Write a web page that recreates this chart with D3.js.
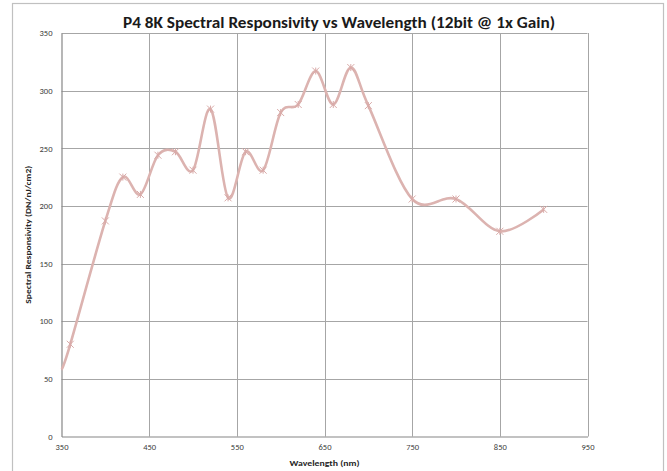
<!DOCTYPE html>
<html><head><meta charset="utf-8">
<script src="https://cdn.jsdelivr.net/npm/d3@7"></script>
<style>body{margin:0;background:#fff}svg{display:block}</style>
</head><body><svg id="c" width="667" height="471"></svg>
<script>
const wavelengths = [350,360,400,420,440,460,480,500,520,540,560,580,600,620,640,660,680,700,750,800,850,900];
const responsivity = [58,80,187,225,210,244,247,231,284,207,247,231,281,288,317,288,320,287,206,206,178,197];
const xTicks = [350,450,550,650,750,850,950];
const yTicks = [0,50,100,150,200,250,300,350];
const titleText = "P4 8K Spectral Responsivity vs Wavelength (12bit @ 1x Gain)";
const xTitle = "Wavelength (nm)";
const yTitle = "Spectral Responsivity (DN/nJ/cm2)";

const svg = d3.select("#c");
const L = 61.5, R = 587.5, T = 33, B = 436.5;
const x = d3.scaleLinear().domain([350,950]).range([L,R]);
const y = d3.scaleLinear().domain([0,350]).range([B,T]);
const font = "Carlito, 'Liberation Sans Narrow', 'Liberation Sans', Arial, sans-serif";

// outer border
svg.append("rect").attr("x",12.5).attr("y",3.5).attr("width",651).attr("height",480)
  .attr("fill","#fff").attr("stroke","#c0c0c0").attr("stroke-width",1.2);

// gridlines
const grid = svg.append("g");
grid.selectAll("line.h").data(yTicks.filter(d=>d>0)).join("line")
  .attr("x1",L).attr("x2",R).attr("y1",d=>Math.round(y(d))+0.5).attr("y2",d=>Math.round(y(d))+0.5)
  .attr("stroke","#a6a6a6").attr("stroke-width",1);
grid.selectAll("line.v").data(xTicks.filter(d=>d>350)).join("line")
  .attr("y1",T).attr("y2",B).attr("x1",d=>Math.round(x(d))+0.5).attr("x2",d=>Math.round(x(d))+0.5)
  .attr("stroke","#a6a6a6").attr("stroke-width",1);

// axes
const xAxis = svg.append("g").attr("transform",`translate(0,${B})`)
  .call(d3.axisBottom(x).tickValues(xTicks).tickSize(0).tickPadding(7).tickFormat(d3.format("d")));
const yAxis = svg.append("g").attr("transform",`translate(${L},0)`)
  .call(d3.axisLeft(y).tickValues(yTicks).tickSize(0).tickPadding(9).tickFormat(d3.format("d")));
[xAxis,yAxis].forEach(a=>{
  a.select(".domain").attr("stroke","#868686").attr("stroke-width",1.2);
  a.selectAll("text").attr("font-family",font).attr("font-size",8.5).attr("fill","#404040");
});

// line
const line = d3.line().x(d=>x(d[0])).y(d=>y(d[1])).curve(d3.curveCardinal.tension(0));
const pts = wavelengths.map((w,i)=>[w,responsivity[i]]);
svg.append("path").datum(pts).attr("d",line).attr("fill","none")
  .attr("stroke","#dcb3b0").attr("stroke-width",2.6);

// star markers (first point sits on the axis and is not visible in the reference)
const m = svg.append("g").attr("stroke","#d9aaa8").attr("stroke-width",1);
const s = 3.5;
m.selectAll("path").data(pts.slice(1)).join("path")
  .attr("d",d=>{const cx=x(d[0]),cy=y(d[1]);
    return `M${cx-s},${cy-s}L${cx+s},${cy+s}M${cx-s},${cy+s}L${cx+s},${cy-s}M${cx},${cy-s}L${cx},${cy+s}`;});

// titles
svg.append("text").attr("x",339).attr("y",28).attr("text-anchor","middle")
  .attr("font-family",font).attr("font-weight","bold").attr("font-size",16.5).attr("fill","#1a1a1a")
  .attr("textLength",432).attr("lengthAdjust","spacingAndGlyphs").text(titleText);
svg.append("text").attr("x",(L+R)/2).attr("y",466).attr("text-anchor","middle")
  .attr("font-family",font).attr("font-weight","bold").attr("font-size",8.5).attr("fill","#262626")
  .attr("textLength",70).attr("lengthAdjust","spacingAndGlyphs").text(xTitle);
svg.append("text").attr("transform",`translate(31,${(T+B)/2}) rotate(-90)`).attr("text-anchor","middle")
  .attr("font-family",font).attr("font-weight","bold").attr("font-size",8.5).attr("fill","#262626")
  .attr("textLength",138).attr("lengthAdjust","spacingAndGlyphs").text(yTitle);
</script></body></html>
